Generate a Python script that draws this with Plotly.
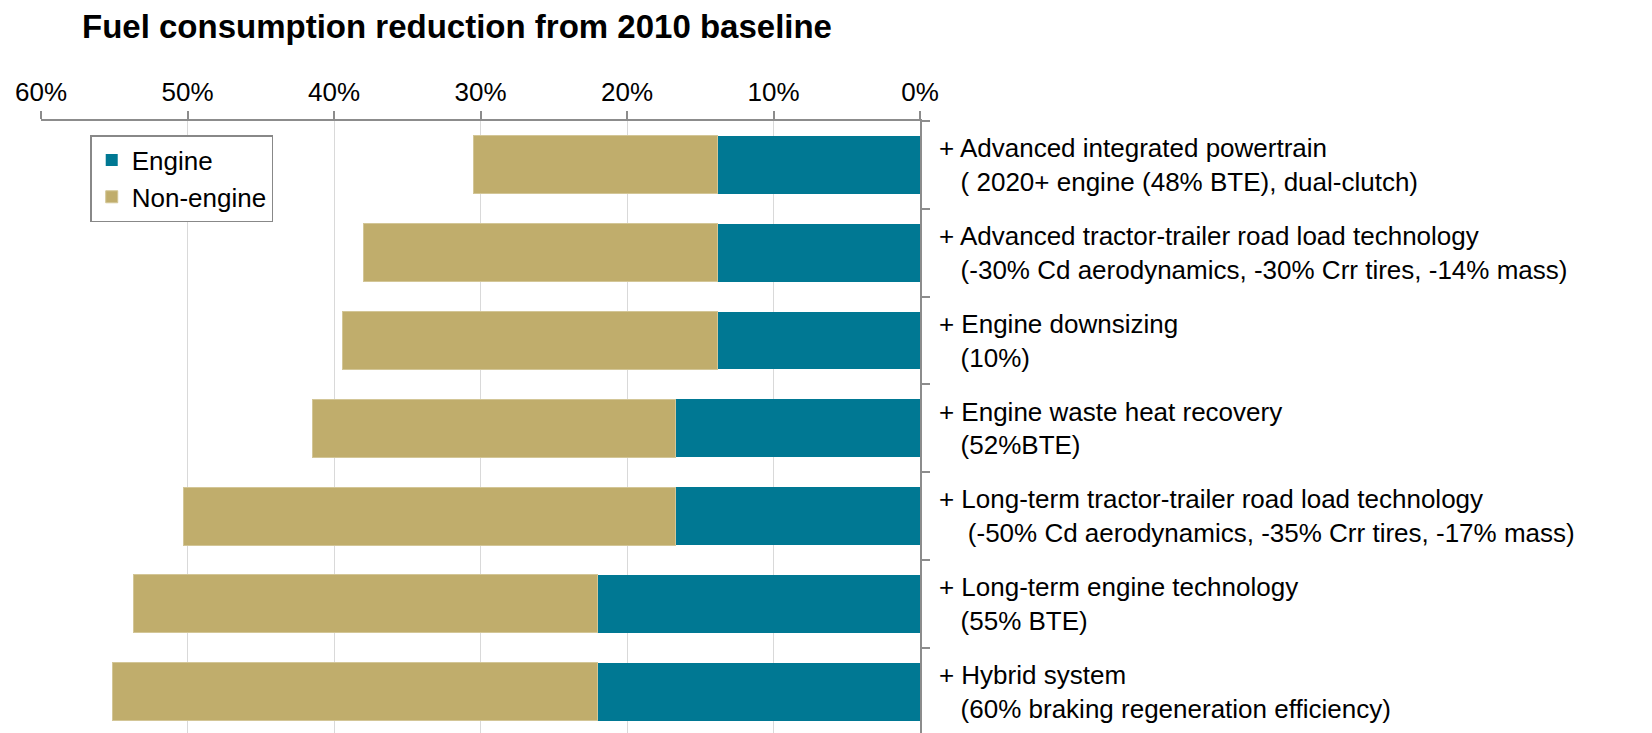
import plotly.graph_objects as go

categories = [
    "+ Advanced integrated powertrain<br>\u00a0\u00a0\u00a0( 2020+ engine (48% BTE), dual-clutch)",
    "+ Advanced tractor-trailer road load technology<br>\u00a0\u00a0\u00a0(-30% Cd aerodynamics, -30% Crr tires, -14% mass)",
    "+ Engine downsizing<br>\u00a0\u00a0\u00a0(10%)",
    "+ Engine waste heat recovery<br>\u00a0\u00a0\u00a0(52%BTE)",
    "+ Long-term tractor-trailer road load technology<br>\u00a0\u00a0\u00a0\u00a0(-50% Cd aerodynamics, -35% Crr tires, -17% mass)",
    "+ Long-term engine technology<br>\u00a0\u00a0\u00a0(55% BTE)",
    "+ Hybrid system<br>\u00a0\u00a0\u00a0(60% braking regeneration efficiency)",
]
engine = [13.8, 13.8, 13.8, 16.7, 16.7, 22.0, 22.0]
non_engine = [16.7, 24.2, 25.6, 24.8, 33.6, 31.7, 33.1]
x_tick_values = [0, 10, 20, 30, 40, 50, 60]
x_tick_labels = ["0%", "10%", "20%", "30%", "40%", "50%", "60%"]
title_text = "Fuel consumption reduction from 2010 baseline"

FONT = "Liberation Sans, Arial, sans-serif"

fig = go.Figure()
fig.add_trace(go.Bar(
    y=categories, x=engine, name="Engine", orientation="h",
    marker=dict(color="#007893", line=dict(width=0)),
))
fig.add_trace(go.Bar(
    y=categories, x=non_engine, name="Non-engine", orientation="h",
    marker=dict(color="#c0ad6c", line=dict(width=1, color="#d3c697")),
))

fig.update_layout(
    width=1652, height=733,
    margin=dict(l=41, r=732, t=121, b=0, autoexpand=False),
    barmode="stack",
    bargap=0.34,
    paper_bgcolor="white",
    plot_bgcolor="white",
    font=dict(family=FONT, size=26, color="#000000"),
    title=dict(
        text="<b>" + title_text + "</b>",
        x=82 / 1652, xref="container", xanchor="left",
        y=1 - 26 / 733, yref="container", yanchor="middle",
        font=dict(family=FONT, size=33, color="#000000"),
    ),
    showlegend=True,
    legend=dict(
        x=0.056, y=0.977, xanchor="left", yanchor="top",
        xref="paper", yref="paper",
        traceorder="normal",
        bordercolor="#888888", borderwidth=1.5,
        bgcolor="white",
        font=dict(family=FONT, size=26, color="#000000"),
        itemwidth=30,
    ),
    xaxis=dict(
        side="top",
        range=[60, 0],
        tickvals=x_tick_values,
        ticktext=x_tick_labels,
        showline=True, linecolor="#8c8c8c", linewidth=1.5,
        ticks="outside", ticklen=8, tickcolor="#8c8c8c", tickwidth=1.5,
        showgrid=True, gridcolor="#d9d9d9", gridwidth=1,
        zeroline=False,
        tickfont=dict(family=FONT, size=26, color="#000000"),
        automargin=False,
    ),
    yaxis=dict(
        side="right",
        type="category",
        range=[6.47, -0.5],
        showline=True, linecolor="#8c8c8c", linewidth=1.5,
        ticks="outside", ticklen=8, tickcolor="#8c8c8c", tickwidth=1.5,
        tickson="boundaries",
        showgrid=False, zeroline=False,
        tickfont=dict(family=FONT, size=26, color="#000000"),
        ticklabelstandoff=12,
        automargin=False,
    ),
)

fig.write_html("out.html")
